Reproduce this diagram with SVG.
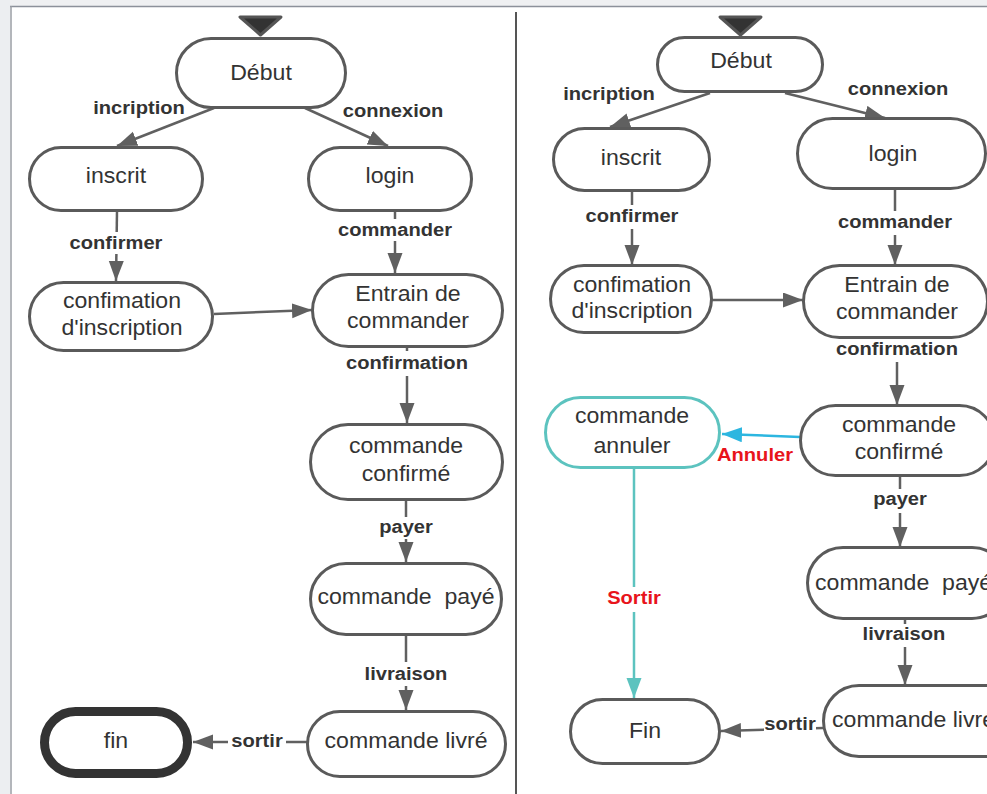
<svg xmlns="http://www.w3.org/2000/svg" width="987" height="794" viewBox="0 0 987 794">
  <style>
    .node { fill: #ffffff; stroke: #5a5a5a; stroke-width: 3; }
    .cancel { fill: #ffffff; stroke: #5cc3bf; stroke-width: 3; }
    .final { fill: #ffffff; stroke: #333333; stroke-width: 9; }
    .n { font-family: "Liberation Sans", Arial, sans-serif; font-size: 22px; fill: #333333; text-anchor: middle; }
    .ns { font-family: "Liberation Sans", Arial, sans-serif; font-size: 22px; fill: #333333; text-anchor: start; }
    .l { font-family: "Liberation Sans", Arial, sans-serif; font-weight: bold; font-size: 19px; fill: #333333; text-anchor: middle; }
    .red { fill: #e8141b; }
    .edge { fill: none; stroke: #606060; stroke-width: 2.5; marker-end: url(#arrow); }
    .edge-plain { fill: none; stroke: #606060; stroke-width: 2.5; }
    .edge-blue { fill: none; stroke: #2cb6e0; stroke-width: 2.5; marker-end: url(#arrow-blue); }
    .edge-teal { fill: none; stroke: #5cc3bf; stroke-width: 2.5; marker-end: url(#arrow-teal); }
    .lbg { fill: #ffffff; }
    .start { fill: #333333; stroke: #555555; stroke-width: 3; stroke-linejoin: round; }
  </style>
  <defs>
    <marker id="arrow" markerUnits="userSpaceOnUse" markerWidth="21" markerHeight="16" refX="20" refY="7.5" orient="auto">
      <path d="M0,0 L20,7.5 L0,15 z" fill="#606060"/>
    </marker>
    <marker id="arrow-blue" markerUnits="userSpaceOnUse" markerWidth="21" markerHeight="16" refX="20" refY="7.5" orient="auto">
      <path d="M0,0 L20,7.5 L0,15 z" fill="#2cb6e0"/>
    </marker>
    <marker id="arrow-teal" markerUnits="userSpaceOnUse" markerWidth="21" markerHeight="16" refX="20" refY="7.5" orient="auto">
      <path d="M0,0 L20,7.5 L0,15 z" fill="#5cc3bf"/>
    </marker>
  </defs>

  <!-- page background and frame -->
  <rect x="0" y="0" width="987" height="794" fill="#ffffff"/>
  <rect x="0" y="0" width="987" height="6" fill="#eff0f2"/>
  <rect x="0" y="0" width="10" height="794" fill="#eceef1"/>
  <line x1="10" y1="6.5" x2="987" y2="6.5" stroke="#8c919a" stroke-width="1.5"/>
  <line x1="11" y1="6" x2="11" y2="794" stroke="#9a9ea5" stroke-width="1.5"/>
  <line x1="516" y1="12" x2="516" y2="794" stroke="#555555" stroke-width="2"/>

  <!-- connectors -->
  <g id="connectors">
    <!-- left diagram -->
    <line class="edge" x1="214" y1="108" x2="117" y2="146"/>
    <line class="edge" x1="305" y1="108" x2="388" y2="146"/>
    <line class="edge" x1="117" y1="211" x2="116" y2="281"/>
    <line class="edge" x1="395" y1="210" x2="395" y2="273"/>
    <line class="edge" x1="214" y1="314" x2="312" y2="310"/>
    <line class="edge" x1="407" y1="347" x2="407" y2="423"/>
    <line class="edge" x1="406" y1="500" x2="406" y2="562"/>
    <line class="edge" x1="406" y1="635" x2="406" y2="710"/>
    <line class="edge" x1="307" y1="742" x2="193" y2="742"/>

    <!-- right diagram -->
    <line class="edge" x1="710" y1="93" x2="610" y2="127"/>
    <line class="edge" x1="785" y1="93" x2="885" y2="118"/>
    <line class="edge" x1="632" y1="190" x2="632" y2="265"/>
    <line class="edge" x1="895" y1="188" x2="895" y2="265"/>
    <line class="edge" x1="712" y1="300" x2="803" y2="300"/>
    <line class="edge" x1="897" y1="338" x2="897" y2="405"/>
    <line class="edge-blue" x1="800" y1="437" x2="722" y2="434"/>
    <line class="edge-teal" x1="634" y1="467" x2="634" y2="698"/>
    <line class="edge" x1="900" y1="475" x2="900" y2="547"/>
    <line class="edge" x1="905" y1="618" x2="905" y2="685"/>
    <line class="edge" x1="823" y1="728" x2="721" y2="731"/>

    <!-- label backgrounds -->
    <rect class="lbg" x="68" y="232" width="97" height="22"/>
    <rect class="lbg" x="336" y="219" width="118" height="22"/>
    <rect class="lbg" x="345" y="351" width="125" height="25"/>
    <rect class="lbg" x="376" y="517" width="60" height="22"/>
    <rect class="lbg" x="363" y="662" width="86" height="24"/>
    <rect class="lbg" x="228" y="730" width="58" height="22"/>
    <rect class="lbg" x="585" y="205" width="95" height="24"/>
    <rect class="lbg" x="836" y="211" width="118" height="24"/>
    <rect class="lbg" x="835" y="339" width="125" height="23"/>
    <rect class="lbg" x="870" y="489" width="60" height="24"/>
    <rect class="lbg" x="861" y="624" width="86" height="23"/>
    <rect class="lbg" x="605" y="587" width="58" height="25"/>
    <rect class="lbg" x="764" y="714" width="52" height="22"/>

    <!-- labels -->
    <text class="l" transform="translate(139,114) scale(1.06,1)">incription</text>
    <text class="l" transform="translate(393,117) scale(1.06,1)">connexion</text>
    <text class="l" transform="translate(116,249) scale(1.06,1)">confirmer</text>
    <text class="l" transform="translate(395,236) scale(1.06,1)">commander</text>
    <text class="l" transform="translate(407,369) scale(1.06,1)">confirmation</text>
    <text class="l" transform="translate(406,533) scale(1.06,1)">payer</text>
    <text class="l" transform="translate(406,680) scale(1.06,1)">livraison</text>
    <text class="l" transform="translate(257,747) scale(1.06,1)">sortir</text>

    <text class="l" transform="translate(609,100) scale(1.06,1)">incription</text>
    <text class="l" transform="translate(898,95) scale(1.06,1)">connexion</text>
    <text class="l" transform="translate(632,222) scale(1.06,1)">confirmer</text>
    <text class="l" transform="translate(895,228) scale(1.06,1)">commander</text>
    <text class="l" transform="translate(897,355) scale(1.06,1)">confirmation</text>
    <text class="l red" transform="translate(755,461) scale(1.06,1)">Annuler</text>
    <text class="l" transform="translate(900,505) scale(1.06,1)">payer</text>
    <text class="l" transform="translate(904,640) scale(1.06,1)">livraison</text>
    <text class="l red" transform="translate(634,604) scale(1.06,1)">Sortir</text>
    <text class="l" transform="translate(790,730) scale(1.06,1)">sortir</text>
  </g>

  <!-- left diagram: nodes -->
  <g id="start-left">
    <path class="start" d="M240,17 L281,17 L260.5,35 z"/>
  </g>
  <g id="debut-left">
    <rect class="node" x="176.5" y="38.5" width="169" height="69" rx="34.5"/>
    <text class="n" transform="translate(261,80) scale(1.05,1)">Début</text>
  </g>
  <g id="inscrit-left">
    <rect class="node" x="29.5" y="147.5" width="173" height="63" rx="31.5"/>
    <text class="n" transform="translate(116,183) scale(1.05,1)">inscrit</text>
  </g>
  <g id="login-left">
    <rect class="node" x="308.5" y="147.5" width="163" height="63" rx="31.5"/>
    <text class="n" transform="translate(390,183) scale(1.05,1)">login</text>
  </g>
  <g id="confirmation-inscription-left">
    <rect class="node" x="29.5" y="282.5" width="183" height="68" rx="34"/>
    <text class="n" transform="translate(122,0) scale(1.05,1)"><tspan x="0" y="308">confimation</tspan><tspan x="0" y="335">d'inscription</tspan></text>
  </g>
  <g id="entrain-left">
    <rect class="node" x="312.5" y="274.5" width="190" height="72" rx="36"/>
    <text class="n" transform="translate(408,0) scale(1.05,1)"><tspan x="0" y="301">Entrain de</tspan><tspan x="0" y="328">commander</tspan></text>
  </g>
  <g id="confirme-left">
    <rect class="node" x="310.5" y="424.5" width="192" height="75" rx="37.5"/>
    <text class="n" transform="translate(406,0) scale(1.05,1)"><tspan x="0" y="453">commande</tspan><tspan x="0" y="481">confirmé</tspan></text>
  </g>
  <g id="paye-left">
    <rect class="node" x="310.5" y="563.5" width="191" height="71" rx="35.5"/>
    <text class="n" transform="translate(406,604) scale(1.05,1)" xml:space="preserve">commande  payé</text>
  </g>
  <g id="livre-left">
    <rect class="node" x="307.5" y="711.5" width="198" height="65" rx="32.5"/>
    <text class="n" transform="translate(406,748) scale(1.05,1)">commande livré</text>
  </g>
  <g id="fin-left">
    <rect class="final" x="44.5" y="711.5" width="143" height="62" rx="31"/>
    <text class="n" transform="translate(116,748) scale(1.05,1)">fin</text>
  </g>

  <!-- right diagram: nodes -->
  <g id="start-right">
    <path class="start" d="M720,17 L761,17 L740.5,35 z"/>
  </g>
  <g id="debut-right">
    <rect class="node" x="657.5" y="37.5" width="165" height="54" rx="27"/>
    <text class="n" transform="translate(741,68) scale(1.05,1)">Début</text>
  </g>
  <g id="inscrit-right">
    <rect class="node" x="553.5" y="128.5" width="156" height="62" rx="31"/>
    <text class="n" transform="translate(631,165) scale(1.05,1)">inscrit</text>
  </g>
  <g id="login-right">
    <rect class="node" x="797.5" y="118.5" width="188" height="70" rx="35"/>
    <text class="n" transform="translate(893,161) scale(1.05,1)">login</text>
  </g>
  <g id="confirmation-inscription-right">
    <rect class="node" x="550.5" y="265.5" width="161" height="67" rx="33.5"/>
    <text class="n" transform="translate(632,0) scale(1.05,1)"><tspan x="0" y="292">confimation</tspan><tspan x="0" y="318">d'inscription</tspan></text>
  </g>
  <g id="entrain-right">
    <rect class="node" x="803.5" y="265.5" width="184" height="72" rx="36"/>
    <text class="n" transform="translate(897,0) scale(1.05,1)"><tspan x="0" y="292">Entrain de</tspan><tspan x="0" y="319">commander</tspan></text>
  </g>
  <g id="annuler-right">
    <rect class="cancel" x="545.5" y="397.5" width="174" height="70" rx="35"/>
    <text class="n" transform="translate(632,0) scale(1.05,1)"><tspan x="0" y="423">commande</tspan><tspan x="0" y="453">annuler</tspan></text>
  </g>
  <g id="confirme-right">
    <rect class="node" x="800.5" y="405.5" width="194" height="70" rx="35"/>
    <text class="n" transform="translate(899,0) scale(1.05,1)"><tspan x="0" y="432">commande</tspan><tspan x="0" y="459">confirmé</tspan></text>
  </g>
  <g id="paye-right">
    <rect class="node" x="807.5" y="547.5" width="200" height="71" rx="35.5"/>
    <text class="ns" transform="translate(815,590) scale(1.05,1)" xml:space="preserve">commande  payé</text>
  </g>
  <g id="livre-right">
    <rect class="node" x="823.5" y="685.5" width="200" height="71" rx="35.5"/>
    <text class="ns" transform="translate(832,727) scale(1.05,1)">commande livré</text>
  </g>
  <g id="fin-right">
    <rect class="node" x="570.5" y="699.5" width="149" height="64" rx="32"/>
    <text class="n" transform="translate(645,738) scale(1.05,1)">Fin</text>
  </g>
</svg>
